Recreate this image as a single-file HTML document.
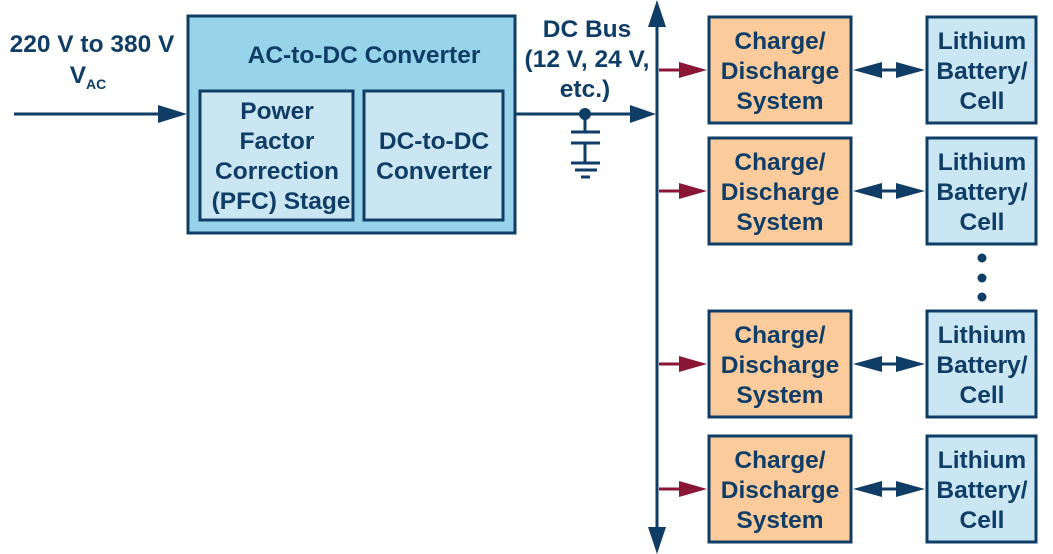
<!DOCTYPE html>
<html><head><meta charset="utf-8"><style>
html,body{margin:0;padding:0;background:#fff;}
svg{display:block;}
text{font-family:"Liberation Sans",Arial,sans-serif;font-weight:bold;font-size:24.5px;fill:#0f3d66;text-anchor:middle;}
</style></head><body>
<svg width="1053" height="554" viewBox="0 0 1053 554" xmlns="http://www.w3.org/2000/svg">
<g stroke="#0f3d66" stroke-width="3">
<rect x="188" y="16" width="327" height="217" fill="#97d4ea"/>
<rect x="200" y="91" width="153" height="129" fill="#c9e6f2"/>
<rect x="364" y="91" width="139" height="129" fill="#c9e6f2"/>
<line x1="14" y1="114" x2="165" y2="114"/>
<line x1="516" y1="114" x2="635" y2="114"/>
<line x1="657" y1="22" x2="657" y2="532"/>
<line x1="585" y1="114" x2="585" y2="132"/>
<line x1="571" y1="132" x2="600" y2="132"/>
<line x1="571" y1="143" x2="600" y2="143"/>
<line x1="585" y1="143" x2="585" y2="163"/>
<line x1="571" y1="163" x2="600" y2="163"/>
<line x1="575" y1="170" x2="597" y2="170"/>
<line x1="581" y1="177" x2="590" y2="177"/>
</g>
<g fill="#0f3d66">
<polygon points="158,105 187,114 158,123"/>
<polygon points="630,105 656,114 630,123"/>
<polygon points="648,27 657,0 666,27"/>
<polygon points="648,527 657,554 666,527"/>
<circle cx="585" cy="114" r="6"/>
<circle cx="982" cy="258" r="4.5"/>
<circle cx="982" cy="278" r="4.5"/>
<circle cx="982" cy="297" r="4.5"/>
</g>
<g stroke="#0f3d66" stroke-width="3">
<rect x="709" y="17" width="142" height="106" fill="#fbcb9c"/>
<rect x="927" y="17" width="109" height="106" fill="#c9e6f2"/>
<rect x="709" y="138" width="142" height="106" fill="#fbcb9c"/>
<rect x="927" y="138" width="109" height="106" fill="#c9e6f2"/>
<rect x="709" y="311" width="142" height="106" fill="#fbcb9c"/>
<rect x="927" y="311" width="109" height="106" fill="#c9e6f2"/>
<rect x="709" y="436" width="142" height="106" fill="#fbcb9c"/>
<rect x="927" y="436" width="109" height="106" fill="#c9e6f2"/>
<line x1="868" y1="70" x2="910" y2="70"/>
<line x1="868" y1="191" x2="910" y2="191"/>
<line x1="868" y1="364" x2="910" y2="364"/>
<line x1="868" y1="489" x2="910" y2="489"/>
</g>
<g stroke="#8a1535" stroke-width="3">
<line x1="659" y1="70" x2="685" y2="70"/>
<line x1="659" y1="191" x2="685" y2="191"/>
<line x1="659" y1="364" x2="685" y2="364"/>
<line x1="659" y1="489" x2="685" y2="489"/>
</g>
<g fill="#8a1535">
<polygon points="679,62 707,70 679,78"/>
<polygon points="679,183 707,191 679,199"/>
<polygon points="679,356 707,364 679,372"/>
<polygon points="679,481 707,489 679,497"/>
</g>
<g fill="#0f3d66">
<polygon points="853,70 882,62 882,78"/><polygon points="925,70 896,62 896,78"/>
<polygon points="853,191 882,183 882,199"/><polygon points="925,191 896,183 896,199"/>
<polygon points="853,364 882,356 882,372"/><polygon points="925,364 896,356 896,372"/>
<polygon points="853,489 882,481 882,497"/><polygon points="925,489 896,481 896,497"/>
</g>
<text x="92" y="52">220 V to 380 V</text>
<text x="88" y="83">V<tspan font-size="14" dy="6">AC</tspan></text>
<text x="364" y="63">AC-to-DC Converter</text>
<text x="277" y="119">Power</text>
<text x="277" y="149">Factor</text>
<text x="277" y="179">Correction</text>
<text x="281" y="209">(PFC) Stage</text>
<text x="434" y="149">DC-to-DC</text>
<text x="434" y="179">Converter</text>
<text x="587" y="37">DC Bus</text>
<text x="587" y="67">(12 V, 24 V,</text>
<text x="585" y="97">etc.)</text>
<text x="780" y="49">Charge/</text><text x="780" y="79">Discharge</text><text x="780" y="109">System</text>
<text x="982" y="49">Lithium</text><text x="982" y="79">Battery/</text><text x="982" y="109">Cell</text>
<text x="780" y="170">Charge/</text><text x="780" y="200">Discharge</text><text x="780" y="230">System</text>
<text x="982" y="170">Lithium</text><text x="982" y="200">Battery/</text><text x="982" y="230">Cell</text>
<text x="780" y="343">Charge/</text><text x="780" y="373">Discharge</text><text x="780" y="403">System</text>
<text x="982" y="343">Lithium</text><text x="982" y="373">Battery/</text><text x="982" y="403">Cell</text>
<text x="780" y="468">Charge/</text><text x="780" y="498">Discharge</text><text x="780" y="528">System</text>
<text x="982" y="468">Lithium</text><text x="982" y="498">Battery/</text><text x="982" y="528">Cell</text>
</svg>
</body></html>
